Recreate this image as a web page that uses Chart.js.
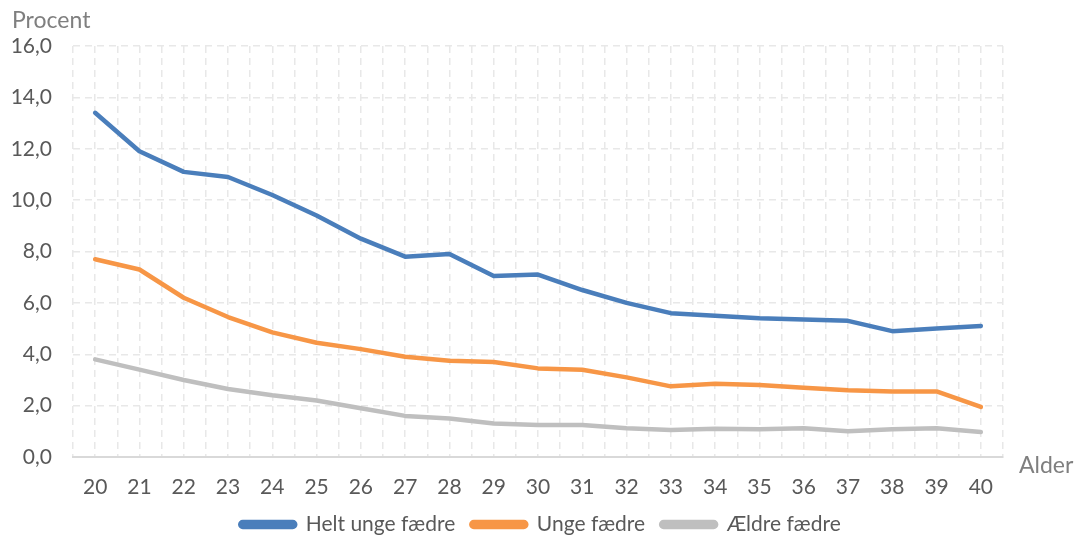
<!DOCTYPE html>
<html>
<head>
<meta charset="utf-8">
<script src="https://cdn.jsdelivr.net/npm/chart.js@4"></script>
<style>
  html, body { margin: 0; padding: 0; background: #fff; }
  #wrap { width: 1081px; height: 541px; }
</style>
</head>
<body>
<div id="wrap"><canvas id="graf"></canvas></div>
<script>
const alder = [20, 21, 22, 23, 24, 25, 26, 27, 28, 29, 30, 31, 32, 33, 34, 35, 36, 37, 38, 39, 40];
const heltUnge = [13.4, 11.9, 11.1, 10.9, 10.2, 9.4, 8.5, 7.8, 7.9, 7.05, 7.1, 6.5, 6.0, 5.6, 5.5, 5.4, 5.35, 5.3, 4.9, 5.0, 5.1];
const unge = [7.7, 7.3, 6.2, 5.45, 4.85, 4.45, 4.2, 3.9, 3.75, 3.7, 3.45, 3.4, 3.1, 2.75, 2.85, 2.8, 2.7, 2.6, 2.55, 2.55, 1.95];
const aeldre = [3.8, 3.4, 3.0, 2.65, 2.4, 2.2, 1.9, 1.6, 1.5, 1.3, 1.25, 1.25, 1.12, 1.05, 1.1, 1.08, 1.12, 1.0, 1.08, 1.12, 0.97];
const yTicks = [0, 2, 4, 6, 8, 10, 12, 14, 16];

const fontFam = "Lato, 'Open Sans', sans-serif";
const gitter = '#e8e8e8';

function serie(navn, vaerdier, farve) {
  return {
    label: navn,
    data: alder.map((a, i) => ({ x: a, y: vaerdier[i] })),
    borderColor: farve,
    backgroundColor: farve,
    borderWidth: 4.5,
    borderCapStyle: 'round',
    borderJoinStyle: 'round',
    pointRadius: 0,
    tension: 0
  };
}

// aksetitler: "Procent" oppe til venstre og "Alder" nede til hoejre
const aksetekster = {
  id: 'aksetekster',
  afterDraw(chart) {
    const ctx = chart.ctx;
    ctx.save();
    ctx.fillStyle = '#7f7f7f';
    ctx.font = '23px ' + fontFam;
    ctx.textBaseline = 'alphabetic';
    ctx.textAlign = 'left';
    ctx.fillText('Procent', 12, 28);
    ctx.fillText('Alder', 1019, 473);
    ctx.restore();
  }
};

new Chart(document.getElementById('graf'), {
  type: 'line',
  data: {
    datasets: [
      serie('Helt unge fædre', heltUnge, '#4a7ebb'),
      serie('Unge fædre', unge, '#f79646'),
      serie('Ældre fædre', aeldre, '#bfbfbf')
    ]
  },
  options: {
    responsive: true,
    maintainAspectRatio: false,
    animation: false,
    layout: { padding: { top: 46, right: 0, left: 0, bottom: -4 } },
    scales: {
      x: {
        type: 'linear',
        min: alder[0] - 0.5,
        max: alder[alder.length - 1] + 0.5,
        afterBuildTicks(scale) {
          const t = [];
          for (let v = scale.min; v <= scale.max + 0.001; v += 0.5) t.push({ value: v });
          scale.ticks = t;
        },
        afterFit(scale) { scale.height = 41; },
        ticks: {
          autoSkip: false,
          maxRotation: 0,
          color: '#595959',
          font: { family: fontFam, size: 21 },
          padding: 18,
          callback: v => Number.isInteger(v) ? String(v) : ''
        },
        grid: {
          color: gitter,
          lineWidth: 1.5,
          drawTicks: false
        },
        border: { color: '#d9d9d9', width: 2, dash: [7, 5] }
      },
      y: {
        min: 0,
        max: 16,
        afterBuildTicks(scale) { scale.ticks = yTicks.map(v => ({ value: v })); },
        afterFit(scale) { scale.width = 73; },
        ticks: {
          color: '#595959',
          font: { family: fontFam, size: 21 },
          padding: 21,
          callback: v => v.toFixed(1).replace('.', ',')
        },
        grid: {
          color: gitter,
          lineWidth: 1.5,
          drawTicks: false
        },
        border: { display: false, dash: [7, 5] }
      },
      // tom akse til hoejre, giver plads til "Alder"
      hoejre: {
        position: 'right',
        display: true,
        grid: { display: false },
        ticks: { display: false },
        border: { display: false },
        afterFit(scale) { scale.width = 78; }
      }
    },
    plugins: {
      legend: {
        position: 'bottom',
        labels: {
          boxWidth: 55,
          boxHeight: 5,
          padding: 16,
          useBorderRadius: true,
          borderRadius: 2.5,
          color: '#595959',
          font: { family: fontFam, size: 21 }
        }
      },
      tooltip: { enabled: false }
    }
  },
  plugins: [aksetekster]
});
</script>
</body>
</html>
